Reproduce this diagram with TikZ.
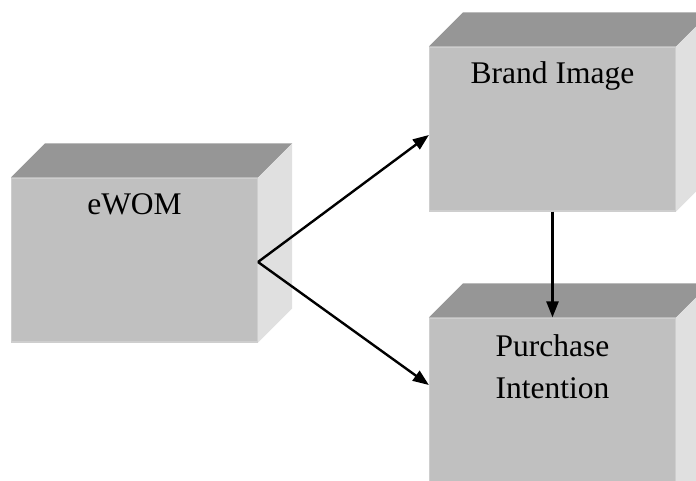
\documentclass[tikz,border=0pt]{standalone}
\usepackage{fontspec}
\setmainfont{Liberation Serif}
\usetikzlibrary{arrows.meta,calc}
\definecolor{frontc}{RGB}{192,192,192}
\definecolor{topc}{RGB}{150,150,150}
\definecolor{sidec}{RGB}{224,224,224}
\definecolor{edgec}{RGB}{206,206,206}
\tikzset{
  boxfront/.style={rectangle, fill=frontc, draw=edgec, line width=1.2pt, inner sep=0pt, minimum width=246pt},
  lbl/.style={font=\fontsize{31.5}{42}\selectfont, align=center, anchor=north, inner sep=0pt},
  conn/.style={line width=2.4pt, -{Triangle[length=16pt,width=12pt]}},
}
\newcommand{\cubefaces}[1]{%
  \fill[topc] (#1.north west) -- ++(34pt,34pt) -- ($(#1.north east)+(34pt,34pt)$) -- (#1.north east) -- cycle;
  \fill[sidec] (#1.north east) -- ++(34pt,34pt) -- ($(#1.south east)+(34pt,34pt)$) -- (#1.south east) -- cycle;
}
\begin{document}
\begin{tikzpicture}[x=1pt,y=-1pt]
\useasboundingbox (0,0) rectangle (696,481);
\begin{scope}
\clip (0,0) rectangle (696,481);
\node[boxfront, minimum height=164pt] (ewom) at (134.5,260) {};
\node[boxfront, minimum height=164pt] (brand) at (552.5,129) {};
\node[boxfront, minimum height=200pt] (purch) at (552.5,418) {};
\begin{scope}[y=1pt]
\cubefaces{ewom}
\cubefaces{brand}
\cubefaces{purch}
\end{scope}
\end{scope}
\node[lbl] (t1) at ([yshift=-16pt]ewom.north) {eWOM};
\node[lbl] (t2) at ([yshift=-15pt]brand.north) {Brand Image};
\node[lbl] (t3) at ([yshift=-17pt]purch.north) {Purchase\\Intention};
\coordinate (src) at (258,262);
\draw[conn] (src) -- ([yshift=-6pt]brand.west);
\draw[conn] (src) -- ([yshift=33pt]purch.west);
\draw[conn] (brand.south) -- (purch.north);
\end{tikzpicture}
\end{document}
